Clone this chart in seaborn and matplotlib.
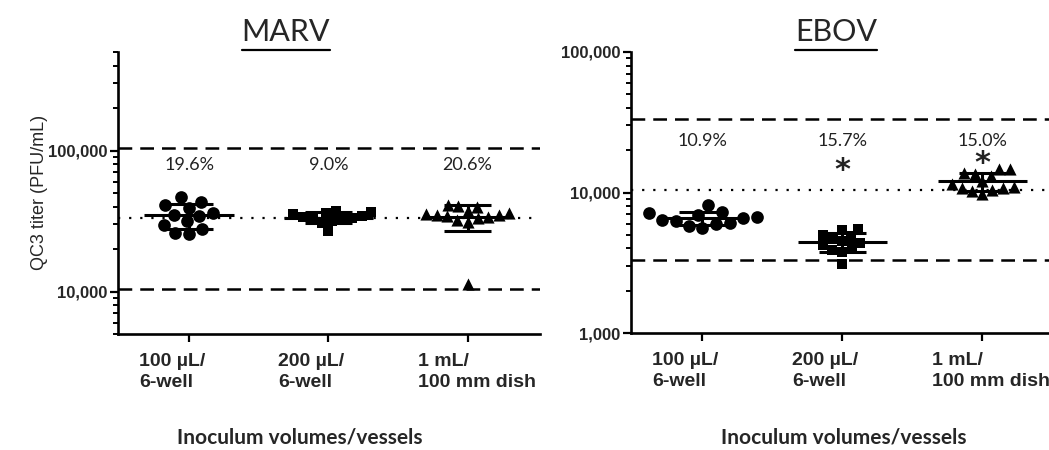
import numpy as np
import matplotlib
matplotlib.use("Agg")
import matplotlib.pyplot as plt
from matplotlib.ticker import LogLocator, FuncFormatter, NullFormatter
from matplotlib.transforms import ScaledTranslation, Affine2D
from matplotlib.markers import MarkerStyle
from matplotlib.lines import Line2D
import seaborn as sns

# ---------------- data ----------------
categories = ["100 µL/\n6-well", "200 µL/\n6-well", "1 mL/\n100 mm dish"]

marv_100 = [46900, 43300, 41200, 39200, 36100, 34900, 34300, 31600, 29600, 27700, 25900, 25500]
marv_200 = [37300, 36800, 36000, 35200, 34500, 34000, 33500, 33000, 32500, 31500, 30500, 27000]
marv_1ml = [41000, 40500, 40000, 37000, 36000, 35500, 35000, 35000, 34500, 34000, 33000, 32000, 31000, 11400]

ebov_100 = [8100, 7300, 7100, 6900, 6700, 6600, 6400, 6300, 6100, 6000, 5800, 5600]
ebov_200 = [5500, 5400, 5000, 4900, 4700, 4500, 4400, 4200, 4000, 3900, 3800, 3100]
ebov_1ml = [14800, 14800, 13800, 13600, 13200, 12000, 11500, 11000, 10800, 10800, 10500, 10200, 9800]

marv_cv = ["19.6%", "9.0%", "20.6%"]
ebov_cv = ["10.9%", "15.7%", "15.0%"]
ebov_sig = [False, True, True]

marv_ref = 33200
marv_bounds = [10500, 105000]
ebov_ref = 10500
ebov_bounds = [3320, 33200]

marv_ylim = (5000, 500000)
ebov_ylim = (1000, 100000)

# ---------------- style ----------------
sns.set_style("ticks")
plt.rcParams["font.family"] = ["Liberation Sans", "DejaVu Sans"]

W, H = 1049, 450
fig = plt.figure(figsize=(W / 100, H / 100), dpi=100)

def px_rect(left, top, right, bottom):
    return [left / W, 1 - bottom / H, (right - left) / W, (bottom - top) / H]

ax1 = fig.add_axes(px_rect(118, 52, 540, 334))
ax2 = fig.add_axes(px_rect(631, 52, 1051, 333))

# (marker, nominal swarm size, visual scale)
marker_specs = [("o", 9.6, 0.95), ("s", 7.0, 1.12), ("^", 7.4, 1.18)]

def fmt(v, pos):
    return f"{int(round(v)):,}"

def panel(ax, groups, ylim, xlim, ref, bounds, cv_labels, cv_y, sig, sig_y):
    ax.set_yscale("log")
    ax.set_ylim(*ylim)
    ax.set_xlim(*xlim)
    for i, (vals, (m, s, sc)) in enumerate(zip(groups, marker_specs)):
        ms = MarkerStyle(m, transform=Affine2D().scale(sc))
        sns.swarmplot(x=[categories[i]] * len(vals), y=vals, order=categories,
                      marker=ms, size=s, color="black", linewidth=0, ax=ax,
                      zorder=3, warn_thresh=1.0)
        mean = np.mean(vals)
        sd = np.std(vals, ddof=1)
        ax.hlines(mean, i - 0.32, i + 0.32, color="black", lw=2.2, zorder=4)
        ax.vlines(i, mean - sd, mean + sd, color="black", lw=2.2, zorder=4)
        ax.hlines([mean - sd, mean + sd], i - 0.17, i + 0.17, color="black", lw=2.2, zorder=4)
        ax.text(i, cv_y, cv_labels[i], ha="center", va="center",
                fontsize=13, family="Lato", color="#222222")
        if sig[i]:
            ax.text(i, sig_y[i], "*", ha="center", va="center",
                    fontsize=22, family="DejaVu Sans", fontweight="bold", color="#222222")
    ax.set_yscale("log")
    ax.set_ylim(*ylim)
    ax.set_xlim(*xlim)
    ax.axhline(ref, color="black", lw=1.6, linestyle=(0, (1, 4)), zorder=2)
    for b in bounds:
        ax.axhline(b, color="black", lw=1.8, linestyle=(0, (5.5, 3.2)), zorder=2)

    ax.yaxis.set_major_locator(LogLocator(base=10))
    ax.yaxis.set_minor_locator(LogLocator(base=10, subs=np.arange(2, 10)))
    ax.yaxis.set_major_formatter(FuncFormatter(fmt))
    ax.yaxis.set_minor_formatter(NullFormatter())
    ax.set_xticks(range(3))
    ax.tick_params(axis="both", which="major", direction="out", length=6, width=1.6, color="black")
    ax.tick_params(axis="y", which="minor", direction="out", length=3.5, width=1.4, color="black")
    ax.tick_params(axis="x", pad=8)
    ax.tick_params(axis="y", pad=1.5)
    ax.set_xticklabels(categories, fontsize=14, fontweight="bold",
                       ha="left", multialignment="left", linespacing=1.3)
    off = ScaledTranslation(-0.50, 0, fig.dpi_scale_trans)
    for tick in ax.xaxis.get_major_ticks():
        tick.label1.set_transform(tick.label1.get_transform() + off)
    for lab in ax.get_yticklabels():
        lab.set_fontweight("bold")
        lab.set_fontsize(12)
    for sp in ["top", "right"]:
        ax.spines[sp].set_visible(False)
    for sp in ["left", "bottom"]:
        ax.spines[sp].set_linewidth(1.9)
        ax.spines[sp].set_color("black")
    ax.set_xlabel("")
    ax.set_ylabel("")

panel(ax1, [marv_100, marv_200, marv_1ml], marv_ylim, (-0.51, 2.52),
      marv_ref, marv_bounds, marv_cv, 79400, [False, False, False], [None] * 3)
panel(ax2, [ebov_100, ebov_200, ebov_1ml], ebov_ylim, (-0.51, 2.49),
      ebov_ref, ebov_bounds, ebov_cv, 23400, ebov_sig, [14300, 14300, 16000])

# axis labels and titles
fig.text(40 / W, 1 - 192 / H, "QC3 titer (PFU/mL)", rotation=90, ha="center",
         va="center", fontsize=13, family="Liberation Sans")
for cx in (300, 844):
    fig.text(cx / W, 1 - 444 / H, "Inoculum volumes/vessels", ha="center",
             va="baseline", fontsize=15, family="Lato", fontweight="bold")

titles = []
for cx, t in ((286, "MARV"), (836, "EBOV")):
    titles.append(fig.text(cx / W, 1 - 41 / H, t, ha="center", va="baseline",
                           fontsize=22, family="Lato"))

fig.canvas.draw()
r = fig.canvas.get_renderer()
for t in titles:
    bb = t.get_window_extent(r)
    y = (bb.y0 - 4) / H
    fig.add_artist(Line2D([bb.x0 / W, bb.x1 / W], [y, y], color="black", lw=1.6,
                          transform=fig.transFigure))

fig.savefig("out.png", dpi=100)
